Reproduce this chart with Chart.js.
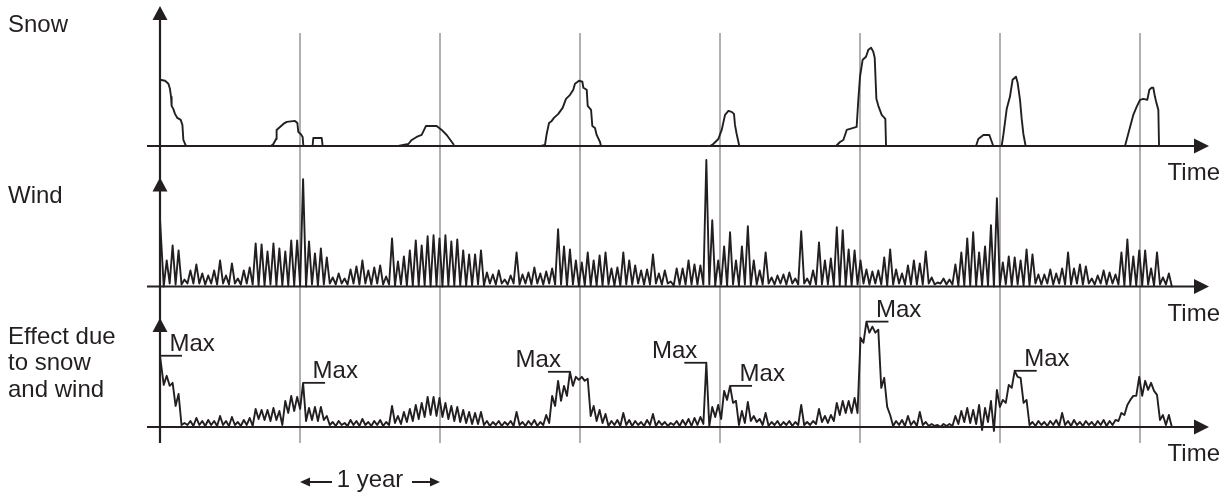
<!DOCTYPE html>
<html>
<head>
<meta charset="utf-8">
<script src="https://cdn.jsdelivr.net/npm/chart.js@4/dist/chart.umd.min.js"></script>
<style>
  html, body { margin: 0; padding: 0; background: #ffffff; }
  #wrap { position: relative; width: 1228px; height: 493px; }
</style>
</head>
<body>
<div id="wrap"><canvas id="chart" width="1228" height="493"></canvas></div>
<script>
// ---- Snow depth outline: time in years, relative depth ----
const snowYears = [
  0, 0.036, 0.060, 0.071, 0.079, 0.083, 0.095, 0.107, 0.124, 0.148, 0.160, 0.167, 0.179, 0.186,
  0.793, 0.810, 0.829, 0.833, 0.857, 0.881, 0.905, 0.964, 0.981, 0.988, 1.005, 1.019, 1.024,
  1.090, 1.095, 1.155, 1.162,
  1.702, 1.774, 1.798, 1.833, 1.869, 1.900, 1.976, 2.012, 2.048, 2.095, 2.100,
  2.721, 2.750, 2.762, 2.779, 2.798, 2.814, 2.845, 2.876, 2.900, 2.929, 2.952, 2.964, 2.993, 3.017, 3.024, 3.048, 3.055, 3.079, 3.088, 3.107, 3.119, 3.143, 3.150,
  3.929, 3.952, 3.988, 4.012, 4.036, 4.060, 4.083, 4.100, 4.107, 4.119, 4.138,
  4.829, 4.857, 4.881, 4.905, 4.976, 4.988, 5.000, 5.019, 5.043, 5.060, 5.079, 5.095, 5.105, 5.117, 5.131, 5.155, 5.181, 5.186,
  5.829, 5.845, 5.881, 5.924, 5.952,
  6.012, 6.024, 6.048, 6.071, 6.090, 6.114, 6.126, 6.143, 6.155, 6.167, 6.183,
  6.893, 6.929, 6.952, 6.976, 7.000, 7.024, 7.052, 7.067, 7.083, 7.095, 7.107, 7.119, 7.131, 7.136
];
const snowDepth = [
  66, 65, 62, 57, 49, 40, 37, 32, 28, 26, 21, 6, 2, 0,
  0, 2, 7, 16, 19, 22, 24, 25, 23, 14, 12, 9, 0,
  0, 8, 8, 0,
  0, 2, 6, 9, 11, 20, 20, 16, 11, 2, 0,
  0, 1, 12, 23, 25, 28, 32, 38, 47, 51, 56, 62, 65, 64, 58, 56, 40, 36, 20, 18, 11, 4, 0,
  0, 2, 7, 16, 31, 35, 34, 32, 21, 12, 0,
  0, 4, 6, 16, 19, 46, 69, 86, 89, 96, 98, 94, 88, 47, 40, 31, 27, 0,
  0, 7, 11, 11, 0,
  0, 11, 37, 49, 66, 69, 63, 46, 27, 12, 0,
  0, 19, 31, 39, 46, 47, 46, 56, 58, 58, 49, 42, 36, 0
];

// ---- Wind: value at start, then one trough + one peak per sample ----
const windStart = 67;
const windPeaks = [
  26, 41, 36, 7, 16, 22, 13, 11, 16, 26,
  11, 23, 8, 16, 19, 43, 42, 35, 43, 38,
  35, 46, 46, 107, 45, 33, 38, 29, 9, 13,
  8, 17, 20, 26, 16, 19, 21, 10, 48, 25,
  30, 36, 46, 41, 50, 51, 48, 51, 45, 47,
  36, 32, 32, 36, 14, 12, 16, 7, 11, 34,
  12, 14, 19, 13, 15, 18, 57, 40, 37, 26,
  24, 34, 26, 31, 34, 18, 19, 34, 26, 21,
  16, 17, 32, 13, 16, 5, 18, 18, 26, 22,
  21, 126, 66, 26, 40, 54, 26, 40, 60, 26,
  16, 34, 9, 11, 12, 14, 8, 55, 8, 16,
  44, 26, 28, 59, 56, 37, 36, 26, 17, 15,
  16, 29, 37, 17, 13, 21, 26, 23, 35, 9,
  4, 8, 7, 22, 34, 48, 54, 34, 40, 61,
  88, 24, 30, 29, 26, 37, 32, 12, 12, 17,
  13, 18, 34, 18, 22, 20, 8, 11, 16, 14,
  12, 34, 47, 30, 36, 36, 18, 34, 9, 13
];
const windTroughs = [
  0, 3, 2, 2, 3, 3, 3, 2, 3, 2,
  3, 2, 3, 2, 3, 2, 1, 1, 2, 1,
  1, 1, 1, 1, 0, 2, 1, 2, 3, 2,
  3, 2, 3, 2, 3, 2, 3, 2, 2, 1,
  2, 1, 1, 1, 1, 0, 1, 0, 1, 1,
  1, 1, 1, 2, 1, 3, 2, 3, 2, 3,
  2, 3, 2, 3, 2, 3, 2, 2, 1, 2,
  1, 1, 1, 1, 1, 2, 1, 1, 2, 2,
  3, 2, 2, 3, 2, 3, 1, 2, 2, 2,
  2, 2, 2, 1, 2, 1, 2, 1, 2, 1,
  2, 2, 3, 2, 3, 2, 3, 2, 3, 2,
  2, 2, 2, 1, 1, 1, 1, 2, 3, 2,
  3, 2, 1, 2, 3, 2, 2, 2, 2, 3,
  2, 3, 2, 2, 1, 1, 1, 1, 1, 1,
  0, 1, 2, 1, 2, 1, 1, 3, 2, 3,
  2, 3, 2, 2, 3, 2, 3, 2, 3, 2,
  3, 2, 1, 1, 1, 1, 2, 1, 2, 2,
  0
];

// ---- Combined effect of snow and wind ----
const effectStart = 71;
const effectPeaks = [
  51, 44, 33, 4, 6, 9, 6, 7, 6, 11,
  6, 10, 5, 7, 9, 18, 17, 17, 19, 16,
  26, 31, 30, 44, 19, 20, 20, 11, 5, 6,
  4, 7, 6, 8, 5, 6, 7, 5, 21, 11,
  15, 18, 22, 24, 30, 30, 29, 24, 21, 20,
  17, 15, 14, 15, 6, 5, 6, 5, 6, 15,
  5, 6, 7, 5, 12, 31, 46, 41, 55, 50,
  50, 48, 21, 17, 13, 6, 7, 14, 7, 6,
  5, 7, 13, 6, 5, 4, 6, 7, 8, 9,
  10, 64, 20, 22, 36, 41, 26, 16, 25, 11,
  8, 14, 5, 6, 5, 6, 5, 22, 5, 6,
  18, 11, 12, 24, 26, 26, 29, 89, 105, 100,
  97, 49, 12, 6, 7, 11, 6, 15, 5, 3,
  2, 3, 3, 11, 16, 19, 17, 22, 19, 26,
  37, 27, 42, 56, 49, 27, 5, 6, 5, 6,
  7, 14, 6, 7, 5, 6, 5, 6, 7, 6,
  7, 14, 22, 31, 50, 46, 44, 32, 12, 12
];
const effectTroughs = [
  42, 41, 21, 2, 2, 1, 2, 1, 2, 1,
  2, 1, 2, 1, 2, 1, 8, 7, 6, 7,
  2, 14, 16, 18, 6, 7, 6, 7, 2, 1,
  2, 1, 2, 1, 2, 1, 2, 1, 2, 4,
  3, 5, 6, 8, 10, 12, 11, 10, 8, 6,
  5, 4, 3, 3, 2, 1, 2, 1, 2, 1,
  2, 1, 2, 1, 2, 4, 21, 26, 31, 41,
  47, 46, 11, 6, 4, 1, 2, 1, 2, 1,
  2, 1, 2, 1, 2, 1, 2, 1, 2, 1,
  2, 3, 1, 10, 8, 27, 24, 2, 4, 6,
  5, 2, 1, 2, 1, 2, 1, 2, 2, 2,
  3, 5, 4, 6, 12, 14, 14, 14, 84, 94,
  94, 39, 20, 1, 2, 1, 2, 1, 2, 1,
  1, 0, 1, 1, 3, 5, 4, 3, -3, 5,
  -4, 20, 24, 39, 50, 24, 2, 1, 2, 1,
  2, 1, 2, 1, 2, 1, 2, 1, 2, 1,
  2, 6, 12, 27, 31, 31, 37, 36, 7, 2,
  0
];

// Peaks that carry a "Max" marker ('start' = value at time zero)
const maxAt   = ['start', 23, 68, 91, 95, 118, 143];
const maxSide = ['right', 'right', 'left', 'left', 'right', 'right', 'right'];

const yearMarks = [1, 2, 3, 4, 5, 6, 7];
const panelTitles = [['Effect due', 'to snow', 'and wind'], ['Wind'], ['Snow']];
const axisWord = 'Time';
const spanWord = '1 year';

// ---- Layout constants ----
const PANEL = 140;                 // value range of one panel
const SAMPLE_T0 = 6.7 / 140;       // time of the first sample peak (years)
const SAMPLE_DT = 5.93 / 140;      // spacing between sample peaks (years)
const X_MIN = -13 / 140, X_MAX = 1049 / 140;
const INK = '#231f20';
const FONT = '24px "Liberation Sans", Arial, Helvetica, sans-serif';

const sampleT = i => SAMPLE_T0 + i * SAMPLE_DT;

function zigzag(start, troughs, peaks, offset) {
  const pts = [{ x: 0, y: start + offset }];
  peaks.forEach((p, i) => {
    pts.push({ x: sampleT(i) - SAMPLE_DT / 2, y: troughs[i] + offset });
    pts.push({ x: sampleT(i), y: p + offset });
  });
  pts.push({ x: sampleT(peaks.length - 1) + SAMPLE_DT / 2, y: troughs[peaks.length] + offset });
  return pts;
}

const snowPts = snowYears.map((t, i) => ({ x: t, y: snowDepth[i] + 2 * PANEL }));
const windPts = zigzag(windStart, windTroughs, windPeaks, PANEL);
const effectPts = zigzag(effectStart, effectTroughs, effectPeaks, 0);

function arrowHead(ctx, tipX, tipY, dir, len, half) {
  ctx.beginPath();
  if (dir === 'up') {
    ctx.moveTo(tipX, tipY); ctx.lineTo(tipX - half, tipY + len); ctx.lineTo(tipX + half, tipY + len);
  } else if (dir === 'right') {
    ctx.moveTo(tipX, tipY); ctx.lineTo(tipX - len, tipY - half); ctx.lineTo(tipX - len, tipY + half);
  } else {
    ctx.moveTo(tipX, tipY); ctx.lineTo(tipX + len, tipY - half); ctx.lineTo(tipX + len, tipY + half);
  }
  ctx.closePath();
  ctx.fill();
}

const decorations = {
  id: 'decorations',
  beforeDatasetsDraw(chart) {
    const { ctx, scales: { x, y } } = chart;
    const top = y.getPixelForValue(2 * PANEL) - 113;
    const bottom = y.getPixelForValue(0) + 16;
    ctx.save();
    ctx.strokeStyle = '#858585';
    ctx.lineWidth = 1.3;
    yearMarks.forEach(yr => {
      const px = x.getPixelForValue(yr);
      ctx.beginPath(); ctx.moveTo(px, top); ctx.lineTo(px, bottom); ctx.stroke();
    });
    ctx.restore();
  },
  afterDatasetsDraw(chart) {
    const { ctx, chartArea, scales: { x, y } } = chart;
    const x0 = x.getPixelForValue(0);
    const xEnd = x.getPixelForValue(X_MAX);
    const bottom = y.getPixelForValue(0) + 16;
    ctx.save();
    ctx.fillStyle = INK;
    ctx.strokeStyle = INK;

    // horizontal time axes with arrows, and the panel titles
    for (let p = 0; p < 3; p++) {
      const base = y.getPixelForValue(p * PANEL);
      ctx.lineWidth = 2.2;
      ctx.beginPath(); ctx.moveTo(chartArea.left, base); ctx.lineTo(xEnd - 12, base); ctx.stroke();
      arrowHead(ctx, xEnd, base, 'right', 15, 7.5);
      const tipY = base - (p === 2 ? 140 : 109);
      arrowHead(ctx, x0, tipY, 'up', 14, 7.5);

      ctx.font = FONT;
      ctx.textAlign = 'right';
      ctx.textBaseline = 'alphabetic';
      ctx.fillText(axisWord, 1220, base + 34);

      ctx.textAlign = 'left';
      const lines = panelTitles[p];
      const first = p === 2 ? base - 114 : base - 83.5;
      lines.forEach((s, k) => ctx.fillText(s, 8, first + k * 26.5));
    }

    // vertical value axis
    ctx.lineWidth = 2.2;
    ctx.beginPath();
    ctx.moveTo(x0, y.getPixelForValue(2 * PANEL) - 135);
    ctx.lineTo(x0, bottom);
    ctx.stroke();

    // Max markers on the effect curve
    ctx.font = FONT;
    ctx.lineWidth = 1.8;
    maxAt.forEach((m, k) => {
      const t = m === 'start' ? 0 : sampleT(m);
      const v = m === 'start' ? effectStart : effectPeaks[m];
      const px = x.getPixelForValue(t), py = y.getPixelForValue(v);
      const right = maxSide[k] === 'right';
      ctx.beginPath();
      ctx.moveTo(px, py); ctx.lineTo(px + (right ? 22 : -22), py); ctx.stroke();
      ctx.textAlign = right ? 'left' : 'right';
      ctx.fillText('Max', px + (right ? 9.5 : -9), py - 5);
    });

    // one-year span indicator
    const a = x.getPixelForValue(yearMarks[0]), b = x.getPixelForValue(yearMarks[1]);
    const ay = 482;
    ctx.lineWidth = 2;
    ctx.beginPath(); ctx.moveTo(a + 8, ay); ctx.lineTo(a + 32, ay); ctx.stroke();
    arrowHead(ctx, a, ay, 'left', 10, 4.5);
    ctx.beginPath(); ctx.moveTo(b - 28, ay); ctx.lineTo(b - 8, ay); ctx.stroke();
    arrowHead(ctx, b, ay, 'right', 10, 4.5);
    ctx.textAlign = 'center';
    ctx.fillText(spanWord, (a + b) / 2, 487);
    ctx.restore();
  }
};

const lineStyle = {
  borderColor: INK,
  borderWidth: 1.9,
  pointRadius: 0,
  tension: 0,
  fill: false,
  clip: false,
  borderJoinStyle: 'round',
  borderCapStyle: 'round'
};

new Chart(document.getElementById('chart'), {
  type: 'line',
  data: {
    datasets: [
      { label: 'Snow', data: snowPts, ...lineStyle },
      { label: 'Wind', data: windPts, ...lineStyle },
      { label: 'Effect due to snow and wind', data: effectPts, ...lineStyle }
    ]
  },
  options: {
    responsive: false,
    animation: false,
    events: [],
    layout: { padding: { left: 147, right: 19, top: 5.5, bottom: 66 } },
    plugins: { legend: { display: false }, tooltip: { enabled: false }, title: { display: false } },
    scales: {
      x: { type: 'linear', min: X_MIN, max: X_MAX, display: false },
      y: { type: 'linear', min: 0, max: 3 * PANEL, display: false }
    }
  },
  plugins: [decorations]
});
</script>
</body>
</html>
